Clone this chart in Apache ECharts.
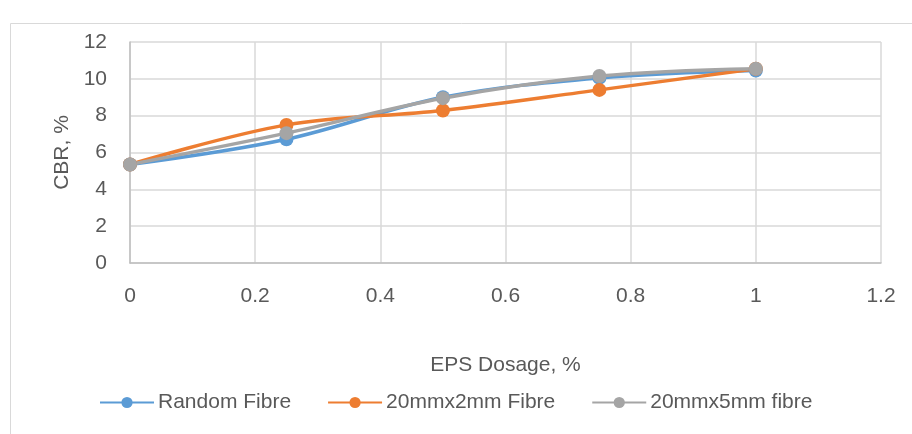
<!DOCTYPE html>
<html><head><meta charset="utf-8">
<script src="https://cdn.jsdelivr.net/npm/echarts@6/dist/echarts.min.js"></script>
<style>html,body{margin:0;padding:0;background:#fff}#c{width:912px;height:434px}</style>
</head><body><div id="c"></div>
<script>
const xValues = [0, 0.25, 0.5, 0.75, 1];
const seriesNames = ['Random Fibre', '20mmx2mm Fibre', '20mmx5mm fibre'];
const randomFibre = [5.35, 6.72, 9.0, 10.05, 10.45];
const fibre20x2 = [5.35, 7.5, 8.28, 9.4, 10.55];
const fibre20x5 = [5.35, 7.05, 8.95, 10.15, 10.55];
const colors = ['#5B9BD5', '#ED7D31', '#A5A5A5'];
const FONT = '"Liberation Sans", Arial, sans-serif';

const chart = echarts.init(document.getElementById('c'));
const dataSets = [randomFibre, fibre20x2, fibre20x5];
chart.setOption({
  animation: false,
  color: colors,
  graphic: [{type: 'rect', shape: {x: 10.5, y: 23.5, width: 920, height: 430}, style: {fill: 'none', stroke: '#D9D9D9', lineWidth: 1}}],
  grid: {left: 130, right: 31, top: 42, bottom: 171},
  xAxis: {
    type: 'value', min: 0, max: 1.2, interval: 0.2,
    name: 'EPS Dosage, %', nameLocation: 'middle', nameGap: 92,
    nameTextStyle: {color: '#595959', fontSize: 21, fontFamily: FONT},
    axisLine: {show: true, lineStyle: {color: '#BFBFBF', width: 1.5}},
    axisTick: {show: false},
    splitLine: {show: true, lineStyle: {color: '#D9D9D9', width: 1.5}},
    axisLabel: {color: '#595959', fontSize: 21, fontFamily: FONT, margin: 23,
      formatter: v => String(Math.round(v * 10) / 10)}
  },
  yAxis: {
    type: 'value', min: 0, max: 12, interval: 2,
    name: 'CBR, %', nameLocation: 'middle', nameGap: 52,
    nameTextStyle: {color: '#595959', fontSize: 21, fontFamily: FONT},
    axisLine: {show: true, lineStyle: {color: '#BFBFBF', width: 1.5}},
    axisTick: {show: false},
    splitLine: {show: true, lineStyle: {color: '#D9D9D9', width: 1.5}},
    axisLabel: {color: '#595959', fontSize: 21, fontFamily: FONT, margin: 23}
  },
  legend: {
    top: 392, left: 99, padding: 0, itemGap: 36, itemWidth: 54, itemHeight: 14,
    textStyle: {color: '#595959', fontSize: 21, fontFamily: FONT, padding: [0, 0, 0, -1]},
    data: seriesNames
  },
  series: seriesNames.map((n, i) => ({
    name: n, type: 'line', smooth: 0.35,
    data: xValues.map((x, j) => [x, dataSets[i][j]]),
    symbol: 'circle', symbolSize: 14,
    lineStyle: {width: 3.5, color: colors[i]},
    itemStyle: {color: colors[i]}
  }))
});
</script></body></html>
